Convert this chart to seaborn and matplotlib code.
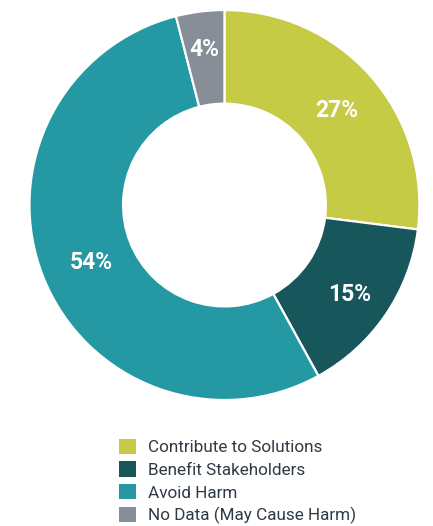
import matplotlib
matplotlib.use("Agg")
import matplotlib.pyplot as plt
from matplotlib.patches import Patch
import numpy as np
import seaborn as sns

categories = ["Contribute to Solutions", "Benefit Stakeholders", "Avoid Harm", "No Data (May Cause Harm)"]
shares = [27, 15, 54, 4]
colors = ["#C5CB44", "#17565B", "#2599A3", "#878E97"]

# radial placement of each percentage label inside the ring
label_radius = [0.77, 0.775, 0.735, 0.83]

sns.set_theme(style="white")
plt.rcParams["font.family"] = ["Roboto", "DejaVu Sans"]

fig = plt.figure(figsize=(4.33, 5.26), dpi=100)
ax = fig.add_axes([0.068, 0.2395, 0.9007, 0.7414])

wedges, _ = ax.pie(
    shares,
    colors=colors,
    startangle=90,
    counterclock=False,
    radius=1.0,
    wedgeprops=dict(width=0.48, edgecolor="white", linewidth=1.6),
)

total = sum(shares)
start = 90.0
for v, r in zip(shares, label_radius):
    mid = np.deg2rad(start - v / total * 360 / 2)
    ax.text(r * np.cos(mid), r * np.sin(mid) - 0.025, f"{v}%", ha="center", va="center",
            color="white", fontsize=16.5, fontweight="bold")
    start -= v / total * 360

ax.set_xlim(-1, 1)
ax.set_ylim(-1, 1)
ax.set_aspect("equal")
ax.axis("off")

handles = [Patch(facecolor=c, edgecolor="none") for c in colors]
fig.legend(handles, categories, loc="upper left", bbox_to_anchor=(0.254, 0.182),
           frameon=False, fontsize=12.3, handlelength=1.0, handleheight=1.0,
           handletextpad=0.75, labelspacing=0.36, borderpad=0, labelcolor="#2E3A45")

fig.savefig("out.png", dpi=100)
